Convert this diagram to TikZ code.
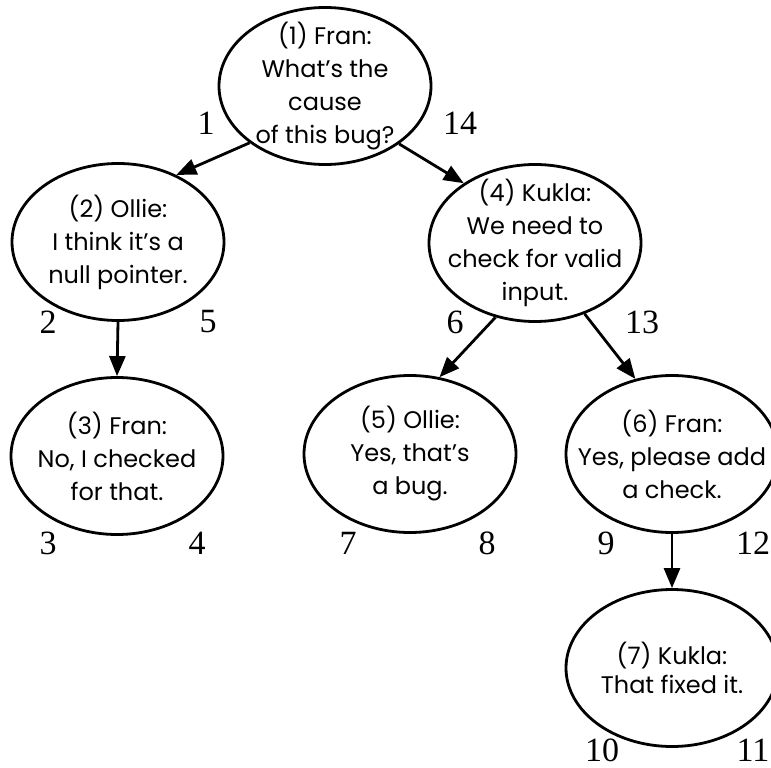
\documentclass[tikz,border=0pt]{standalone}
\usepackage{fontspec}
\setmainfont{Liberation Serif}
\newfontfamily\talkfont{Poppins}
\usetikzlibrary{shapes.geometric,arrows.meta}
\begin{document}
\begin{tikzpicture}[x=1pt,y=-1pt,
  bubble/.style={ellipse, draw, line width=2.8pt, minimum width=212pt, minimum height=157pt, inner sep=0pt},
  talk/.style={align=center, inner sep=0pt, font=\talkfont\fontsize{24}{33}\selectfont},
  num/.style={font=\fontsize{34}{34}\selectfont, inner sep=0pt},
  link/.style={line width=2.8pt, -{Triangle[length=20pt,width=16pt]}}]
\useasboundingbox (0,0) rectangle (771,768);
% bubbles
\node[bubble] (n1) at (325,86) {};
\node[bubble] (n2) at (118,242) {};
\node[bubble] (n3) at (117,456) {};
\node[bubble] (n4) at (535,243) {};
\node[bubble] (n5) at (410,454) {};
\node[bubble] (n6) at (672,454) {};
\node[bubble] (n7) at (672,668) {};
% texts
\node[talk] (t1) at (n1) {(1) Fran:\\What’s the\\cause\\of this bug?};
\node[talk] (t2) at (n2) {(2) Ollie:\\I think it’s a\\null pointer.};
\node[talk] (t3) at (n3) {(3) Fran:\\No, I checked\\for that.};
\node[talk] (t4) at (n4) {(4) Kukla:\\We need to\\check for valid\\input.};
\node[talk] (t5) at (n5) {(5) Ollie:\\Yes, that’s\\a bug.};
\node[talk] (t6) at (n6) {(6) Fran:\\Yes, please add\\a check.};
\node[talk, font=\talkfont\fontsize{24}{29}\selectfont] (t7) at (n7) {(7) Kukla:\\That fixed it.};
% connectors
\draw[link] (n1.217) -- (n2.49);
\draw[link] (n1.322) -- (n4.140);
\draw[link] (n2.south) -- (n3.north);
\draw[link] (n4.242) -- (n5.69);
\draw[link] (n4.305) -- (n6.116);
\draw[link] (n6.south) -- (n7.north);
% visit order numbers
\node[num] (c1) at (206,123) {1};
\node[num] (c14) at (460,123) {14};
\node[num] (c2) at (48,322) {2};
\node[num] (c5) at (208,322) {5};
\node[num] (c6) at (455,322) {6};
\node[num] (c13) at (642,322) {13};
\node[num] (c3) at (48,543) {3};
\node[num] (c4) at (197,543) {4};
\node[num] (c7) at (348,543) {7};
\node[num] (c8) at (487,543) {8};
\node[num] (c9) at (606,543) {9};
\node[num] (c12) at (753,543) {12};
\node[num] (c10) at (602,750) {10};
\node[num] (c11) at (753,750) {11};
\end{tikzpicture}
\end{document}
